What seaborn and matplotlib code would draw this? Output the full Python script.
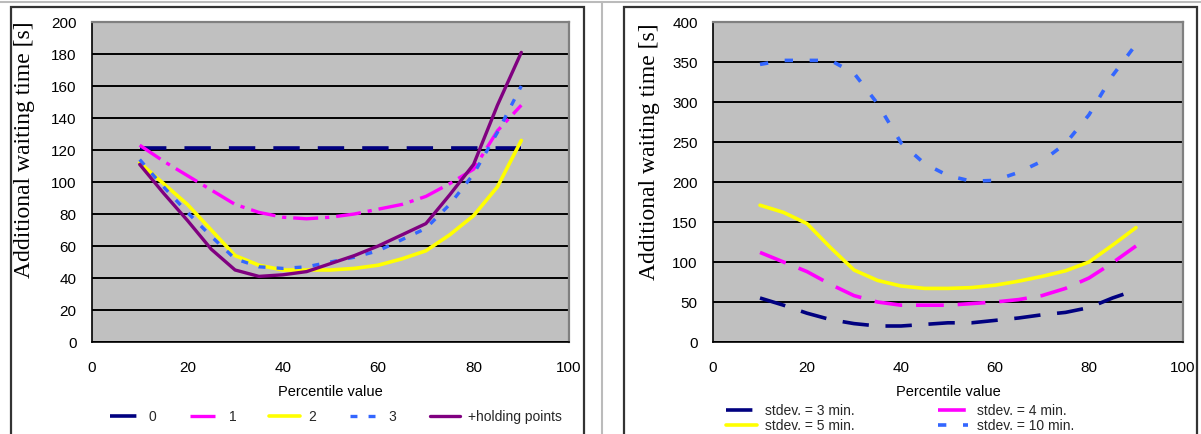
import matplotlib
matplotlib.use("Agg")
import matplotlib.pyplot as plt
from matplotlib.patches import Rectangle
from matplotlib.lines import Line2D
import seaborn as sns

# ---------------- data ----------------
pct = [10, 15, 20, 25, 30, 35, 40, 45, 50, 55, 60, 65, 70, 75, 80, 85, 90]

# left panel
left_labels = ["0", "1", "2", "3", "+holding points"]
left_s0 = [121, 121, 121, 121, 121, 121, 121, 121, 121, 121, 121, 121, 121, 121, 121, 121, 121]
left_s1 = [123, 113, 104, 95, 86, 81, 78, 77, 78, 80, 83, 86, 91, 99, 108, 132, 148]
left_s2 = [112, 99, 86, 70, 54, 48, 45, 45, 45, 46, 48, 52, 57, 67, 79, 97, 126]
left_s3 = [114, 97, 81, 66, 52, 47, 46, 47, 50, 53, 57, 64, 71, 86, 105, 131, 160]
left_s4 = [111, 93, 76, 58, 45, 41, 42, 44, 49, 54, 60, 67, 74, 92, 111, 148, 181]

# right panel
right_labels = ["stdev. = 3 min.", "stdev. = 4 min.", "stdev. = 5 min.", "stdev. = 10 min."]
right_s3 = [55, 46, 36, 28, 23, 20, 20, 22, 24, 24, 27, 30, 34, 37, 43, 55, 65]
right_s4 = [112, 100, 88, 72, 58, 50, 46, 46, 46, 48, 50, 53, 58, 67, 80, 99, 120]
right_s5 = [171, 162, 148, 118, 90, 77, 70, 67, 67, 68, 71, 76, 82, 89, 100, 121, 143]
right_s10 = [347, 352, 352, 352, 336, 298, 249, 223, 208, 201, 202, 212, 226, 248, 284, 333, 372]

xlabel = "Percentile value"
ylabel = "Additional waiting time [s]"
left_yticks = [0, 20, 40, 60, 80, 100, 120, 140, 160, 180, 200]
right_yticks = [0, 50, 100, 150, 200, 250, 300, 350, 400]
xticks = [0, 20, 40, 60, 80, 100]

# ---------------- style ----------------
sns.set_theme(style="white")
plt.rcParams["font.family"] = ["Liberation Sans", "DejaVu Sans"]
plt.rcParams["lines.scale_dashes"] = False

W, H = 1201, 434
fig = plt.figure(figsize=(W / 100, H / 100), dpi=100)
fig.patch.set_facecolor("white")

NAVY = "#000080"
MAG = "#FF00FF"
YEL = "#FFFF00"
BLUE = "#3366FF"
PURP = "#800080"


def make_ax(x0, x1):
    ax = fig.add_axes([x0 / W, 1 - 342 / H, (x1 - x0) / W, 320 / H])
    ax.set_facecolor("#C0C0C0")
    return ax


def style_ax(ax, yticks, ylab_x, ylab_y):
    ax.set_xlim(0, 100)
    ax.set_ylim(yticks[0], yticks[-1])
    ax.set_xticks(xticks)
    ax.set_yticks(yticks)
    ax.yaxis.grid(True, color="black", lw=1.4)
    ax.xaxis.grid(False)
    ax.set_axisbelow(True)
    for s in ["top", "right"]:
        ax.spines[s].set_color("#808080")
        ax.spines[s].set_linewidth(1.6)
    for s in ["left", "bottom"]:
        ax.spines[s].set_color("black")
        ax.spines[s].set_linewidth(1.2)
    ax.tick_params(axis="both", which="major", direction="out", length=4, width=1.2,
                   color="black", labelsize=11, labelcolor="black")
    ax.tick_params(axis="y", pad=7)
    ax.tick_params(axis="x", pad=10)
    ax.set_xlabel(xlabel, fontsize=10.5, color="black", labelpad=7)
    ax.set_ylabel(ylabel, fontsize=17, color="black",
                  family=["Liberation Serif", "DejaVu Serif"])
    ax.yaxis.label.set_va("center")
    ax.yaxis.set_label_coords(ylab_x, ylab_y)


# ---------------- left panel ----------------
axL = make_ax(92, 569)
sns.lineplot(x=pct, y=left_s0, ax=axL, color=NAVY, lw=2.6, linestyle=(0, (19, 13)), label=left_labels[0])
sns.lineplot(x=pct, y=left_s1, ax=axL, color=MAG, lw=2.4, linestyle=(0, (18, 5, 3, 5)), label=left_labels[1])
sns.lineplot(x=pct, y=left_s2, ax=axL, color=YEL, lw=2.6, linestyle="-", label=left_labels[2])
sns.lineplot(x=pct, y=left_s3, ax=axL, color=BLUE, lw=2.4, linestyle=(0, (5, 8)), label=left_labels[3])
sns.lineplot(x=pct, y=left_s4, ax=axL, color=PURP, lw=2.4, linestyle="-", label=left_labels[4])
style_ax(axL, left_yticks, (25 - 92) / 477, (342 - 150) / 320)
axL.legend(loc="center", bbox_to_anchor=(336 / W, 1 - 417 / H), bbox_transform=fig.transFigure,
           ncol=5, frameon=False, fontsize=10, handlelength=2.2, handletextpad=0.6,
           columnspacing=2.4, borderpad=0)

# ---------------- right panel ----------------
axR = make_ax(713, 1183)
sns.lineplot(x=pct, y=right_s3, ax=axR, color=NAVY, lw=2.6, linestyle=(0, (19, 12)), label=right_labels[0])
sns.lineplot(x=pct, y=right_s4, ax=axR, color=MAG, lw=2.6, linestyle=(0, (20, 10)), label=right_labels[1])
sns.lineplot(x=pct, y=right_s5, ax=axR, color=YEL, lw=2.6, linestyle="-", label=right_labels[2])
sns.lineplot(x=pct, y=right_s10, ax=axR, color=BLUE, lw=2.6, linestyle=(0, (6, 12)), label=right_labels[3])
style_ax(axR, right_yticks, (650 - 713) / 470, (342 - 152) / 320)
handles, labels = axR.get_legend_handles_labels()
order = [0, 2, 1, 3]
axR.legend([handles[i] for i in order], [labels[i] for i in order],
           loc="center", bbox_to_anchor=(900 / W, 1 - 418.5 / H), bbox_transform=fig.transFigure,
           ncol=2, frameon=False, fontsize=10, handlelength=2.2, handletextpad=0.6,
           columnspacing=6, labelspacing=0.1, borderpad=0)

# ---------------- chart frames ----------------
fig.add_artist(Rectangle((11 / W, -10 / H), (584 - 11) / W, (427 + 10) / H, transform=fig.transFigure,
                         fill=False, ec="#333333", lw=1.6, clip_on=False))
fig.add_artist(Rectangle((624 / W, -10 / H), (1197 - 624) / W, (427 + 10) / H, transform=fig.transFigure,
                         fill=False, ec="#333333", lw=1.6, clip_on=False))
fig.add_artist(Line2D([602 / W, 602 / W], [0, 1 - 2 / H], transform=fig.transFigure, color="#BBBBBB", lw=1.5))
fig.add_artist(Line2D([0, 1], [1 - 2 / H, 1 - 2 / H], transform=fig.transFigure, color="#BBBBBB", lw=1.5))

fig.savefig("out.png", dpi=100, facecolor="white")
